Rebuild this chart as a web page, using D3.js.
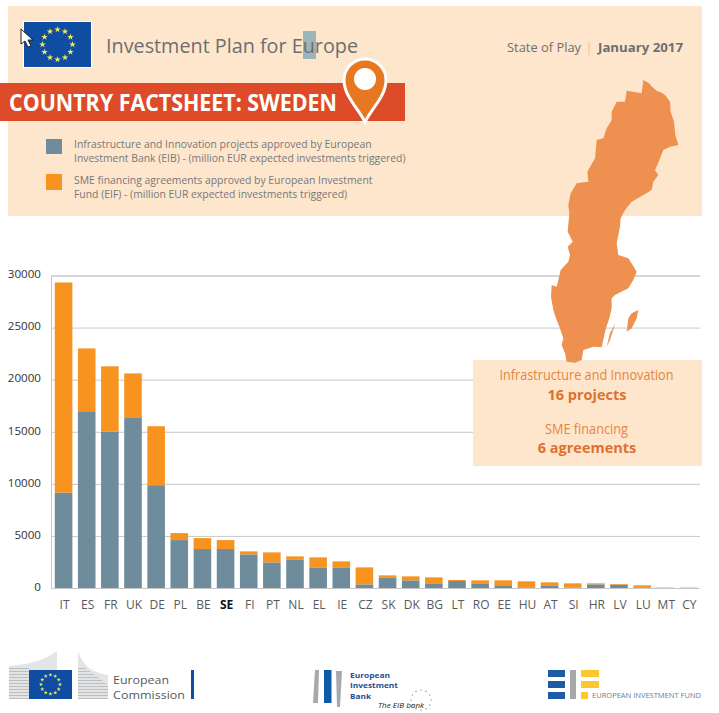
<!DOCTYPE html>
<html><head><meta charset="utf-8">
<script src="https://d3js.org/d3.v7.min.js"></script>
<style>html,body{margin:0;padding:0;background:#fff}svg{display:block}text{font-family:"Open Sans",sans-serif}</style>
</head><body><svg id="c" width="719" height="713"></svg>
<script>
const categories=["IT","ES","FR","UK","DE","PL","BE","SE","FI","PT","NL","EL","IE","CZ","SK","DK","BG","LT","RO","EE","HU","AT","SI","HR","LV","LU","MT","CY"];
const eibValues=[9150,16970,15020,16390,9870,4600,3740,3740,3230,2460,2750,1980,1980,350,1020,735,447,670,447,190,60,255,20,350,320,60,0,0];
const totalValues=[29330,23000,21280,20600,15530,5270,4790,4600,3515,3420,3035,2940,2556,1980,1214,1118,1022,767,735,735,640,543,447,447,383,255,40,35];
const yTicks=[0,5000,10000,15000,20000,25000,30000];
const legendEIB=["Infrastructure and Innovation projects approved by European","Investment Bank (EIB) - (million EUR expected investments triggered)"];
const legendEIF=["SME financing agreements approved by European Investment","Fund (EIF) - (million EUR expected investments triggered)"];
const swedenOutline=[[430,30],[445,38],[458,52],[470,62],[485,68],[495,75],[510,95],[512,125],[522,155],[526,195],[535,225],[522,228],[510,230],[490,240],[482,260],[472,285],[465,300],[475,315],[460,335],[455,360],[425,378],[395,395],[375,420],[362,445],[360,470],[355,495],[350,520],[355,555],[385,565],[398,585],[410,605],[400,630],[385,655],[345,675],[335,685],[335,715],[328,745],[318,775],[312,800],[305,832],[280,830],[250,840],[245,870],[225,878],[200,875],[195,850],[185,825],[190,805],[178,770],[168,745],[160,720],[153,680],[155,645],[170,650],[175,630],[182,600],[205,575],[210,555],[203,530],[218,515],[203,485],[208,430],[205,405],[212,370],[230,340],[265,335],[262,305],[285,265],[290,210],[310,205],[320,175],[335,150],[335,125],[350,95],[375,95],[380,62],[425,70]];
const gotland=[[415,720],[395,730],[385,745],[380,785],[395,775],[410,745]];
const oland=[[346,760],[330,790],[320,830],[330,810]];

const BLUE="#6e8c9c",ORANGE="#f7931e",PEACH="#fde6cc",MAP="#ee9150",RED="#dd4b28",GREY="#6d6e71";
const svg=d3.select("#c");
function fitText(g,t,x,y,size,len,fill,weight,anchor){
  return g.append("text").attr("x",x).attr("y",y).attr("font-size",size).attr("fill",fill).attr("font-weight",weight||400)
    .attr("text-anchor",anchor||"start").attr("textLength",len).attr("lengthAdjust","spacingAndGlyphs").text(t);
}
svg.append("rect").attr("x",8).attr("y",6).attr("width",694).attr("height",210).attr("fill",PEACH);

function flag(g,x,y,w,h,r){
  g.append("rect").attr("x",x).attr("y",y).attr("width",w).attr("height",h).attr("fill","#0f4da2");
  const cx=x+w/2,cy=y+h/2;
  d3.range(12).forEach(i=>{const a=i*Math.PI/6;
    g.append("path").attr("d",d3.symbol(d3.symbolStar,r*r*0.06)()).attr("fill","#f3e85c")
     .attr("transform",`translate(${cx+r*Math.sin(a)},${cy-r*Math.cos(a)})`);});
}
svg.append("rect").attr("x",23).attr("y",21).attr("width",69).attr("height",47).attr("fill","#fff");
flag(svg,24,22,67,45,15);
svg.append("path").attr("d","M21 29 L21 44 L25 41 L28 47 L31 46 L28 40 L33 40 Z").attr("fill","#fff").attr("stroke","#222").attr("stroke-width",1);

svg.append("rect").attr("x",303).attr("y",31).attr("width",13).attr("height",28).attr("fill","#9db4ba");
fitText(svg,"Investment Plan for Europe",106,53,20.5,252,GREY);
fitText(svg,"State of Play",507,52,13,74,GREY);
fitText(svg,"|",588,52,13,2,GREY);
fitText(svg,"January 2017",598,52,13,85,GREY,700);

svg.append("rect").attr("x",0).attr("y",83).attr("width",405).attr("height",38).attr("fill",RED);
fitText(svg,"COUNTRY FACTSHEET: SWEDEN",9,111,22.5,328,"#fff",700);

svg.append("rect").attr("x",46).attr("y",139).attr("width",16).attr("height",15).attr("fill",BLUE);
svg.append("rect").attr("x",46).attr("y",174).attr("width",16).attr("height",16).attr("fill",ORANGE);
[[legendEIB,148],[legendEIF,184]].forEach(([lines,y0])=>lines.forEach((t,i)=>
  svg.append("text").attr("x",74).attr("y",y0+i*14).attr("font-size",10.4).attr("fill","#77787b").text(t)));

const x=d3.scaleBand().domain(categories).range([52,700]).paddingInner(0.24).paddingOuter(0.12);
const y=d3.scaleLinear().domain([0,30000]).range([588,275.5]);

const gy=svg.append("g").attr("transform","translate(51,0)")
  .call(d3.axisLeft(y).tickValues(yTicks).tickSize(-649).tickPadding(10).tickFormat(d3.format("d")));
gy.select(".domain").attr("stroke","#c8c8c8");
gy.selectAll(".tick line").attr("stroke","#c8c8c8");
gy.selectAll("text").attr("font-size",11.6).attr("fill","#333").attr("dy","0.2em");

const gx=svg.append("g").attr("transform","translate(1,589)")
  .call(d3.axisBottom(x).tickSize(0).tickPadding(11));
gx.select(".domain").remove();
gx.selectAll("text").attr("font-size",12)
  .attr("font-weight",d=>d==="SE"?700:400).attr("fill",d=>d==="SE"?"#111":"#58595b");

svg.append("g").selectAll("rect").data(categories).join("rect")
  .attr("x",d=>x(d)).attr("width",x.bandwidth())
  .attr("y",(d,i)=>y(eibValues[i])).attr("height",(d,i)=>y(0)-y(eibValues[i])).attr("fill",BLUE);
svg.append("g").selectAll("rect").data(categories).join("rect")
  .attr("x",d=>x(d)).attr("width",x.bandwidth())
  .attr("y",(d,i)=>y(totalValues[i])).attr("height",(d,i)=>y(eibValues[i])-y(totalValues[i])).attr("fill",ORANGE);

svg.append("rect").attr("x",473).attr("y",360).attr("width",229).attr("height",106).attr("fill",PEACH);
fitText(svg,"Infrastructure and Innovation",586.5,380,14,174,"#e8853f",400,"middle");
svg.append("text").attr("x",587).attr("y",400).attr("text-anchor","middle").attr("font-size",14.5).attr("font-weight",700).attr("fill","#dd7230").text("16 projects");
fitText(svg,"SME financing",586.5,434,14,83,"#e8853f",400,"middle");
svg.append("text").attr("x",587).attr("y",453).attr("text-anchor","middle").attr("font-size",14.5).attr("font-weight",700).attr("fill","#dd7230").text("6 agreements");

const mx=d3.scaleLinear().domain([0,600]).range([500,700]);
const my=d3.scaleLinear().domain([0,900]).range([70,370]);
const ln=d3.line().x(d=>mx(d[0])).y(d=>my(d[1])).curve(d3.curveLinearClosed);
[swedenOutline,gotland,oland].forEach(p=>svg.append("path").attr("d",ln(p)).attr("fill",MAP));

svg.append("path").attr("d","M365 122 C358 108 344 96 344 80 A21 21 0 0 1 386 80 C386 96 372 108 365 122 Z")
  .attr("fill","#e87722").attr("stroke","#fff").attr("stroke-width",3);
svg.append("circle").attr("cx",365).attr("cy",79).attr("r",11).attr("fill","#fff");

// European Commission logo
const ec=svg.append("g");
ec.append("path").attr("d","M9 666 Q40 664 57 651 L57 670 L29 670 L29 699 L9 699 Z").attr("fill","#e3e4e5");
ec.append("path").attr("d","M78 651 Q84 672 108 675 L108 699 L78 699 Z").attr("fill","#e3e4e5");
d3.range(0,11).forEach(i=>{
  ec.append("rect").attr("x",9).attr("y",668+i*3).attr("width",20).attr("height",1).attr("fill","#bcbec0");
  ec.append("rect").attr("x",78).attr("y",668+i*3).attr("width",Math.min(30,8+i*4)).attr("height",1).attr("fill","#bcbec0");
});
flag(ec,29,670,43,29,9.5);
fitText(ec,"European",113,684,11,56,"#58595b");
fitText(ec,"Commission",113,699,11,72,"#58595b");
ec.append("rect").attr("x",191).attr("y",670).attr("width",3).attr("height",29).attr("fill","#0f4da2");

// EIB logo
const eb=svg.append("g");
eb.append("path").attr("d","M315 670 L319 670 L318 703 L313 703 Z").attr("fill","#a7a9ac");
eb.append("rect").attr("x",324).attr("y",670).attr("width",7.5).attr("height",33).attr("fill","#0f5aa6");
eb.append("path").attr("d","M336 671 L342 671 L340 707 L337 707 Z").attr("fill","#a7a9ac");
[["European",677.5,40],["Investment",688,48],["Bank",698.5,21]].forEach(([t,yy,l])=>fitText(eb,t,350,yy,7.6,l,"#1f4e96",700));
fitText(eb,"The EIB bank",378,708,7,46,"#222",400).attr("font-style","italic");
d3.range(12).forEach(i=>{const a=i*Math.PI/6;
  eb.append("circle").attr("cx",421+10*Math.sin(a)).attr("cy",700-10*Math.cos(a)).attr("r",0.6).attr("fill","#555");});

// EIF logo
const ef=svg.append("g");
[670,681,692].forEach(yy=>ef.append("rect").attr("x",548).attr("y",yy).attr("width",17).attr("height",7).attr("fill","#1f5aa6"));
ef.append("rect").attr("x",570).attr("y",670).attr("width",6).attr("height",29).attr("fill","#a7a9ac");
[670,681].forEach(yy=>ef.append("rect").attr("x",581).attr("y",yy).attr("width",18).attr("height",7).attr("fill","#fdc82f"));
ef.append("rect").attr("x",581).attr("y",692).attr("width",7).attr("height",7).attr("fill","#fdc82f");
fitText(ef,"EUROPEAN INVESTMENT FUND",592,698,7.6,109,"#5d7fa0");
</script></body></html>
